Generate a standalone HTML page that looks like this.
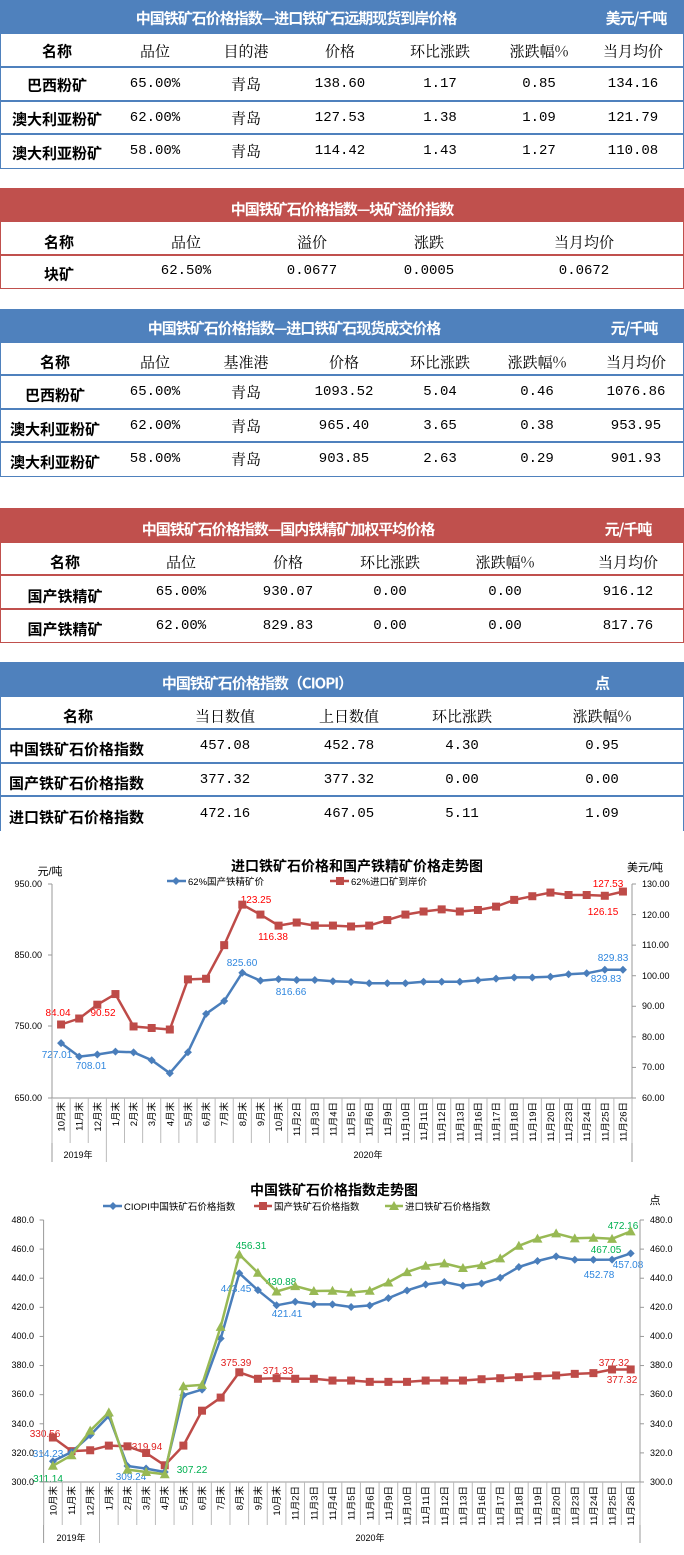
<!DOCTYPE html>
<html><head><meta charset="utf-8">
<style>
*{margin:0;padding:0;box-sizing:border-box}
body{width:684px;height:1555px;background:#fff;position:relative;overflow:hidden;font-family:"Liberation Sans","Noto Sans CJK SC",sans-serif}
.bar{position:absolute;left:0;width:684px}
.blue{background:#4f81bd}.red{background:#c0504d}
.body{position:absolute;left:0;width:684px;border:1.5px solid}
.bb{border-color:#4f81bd}.rb{border-color:#c0504d}
.hl{position:absolute;left:0;width:684px;height:2px}
.c{position:absolute;transform:translate(-50%,-50%);white-space:nowrap}
.t{color:#fff;font-weight:bold;font-size:15px;font-family:"Noto Sans CJK SC",sans-serif;letter-spacing:-1px}
.h{font-size:15px;font-family:"Noto Serif CJK SC",serif;color:#000}
.n{font-size:15px;font-weight:bold;font-family:"Noto Sans CJK SC",sans-serif;color:#000}
.d{font-size:14px;font-family:"Liberation Mono",monospace;letter-spacing:0px;color:#000}
.l{position:absolute;transform:translate(0,-50%);white-space:nowrap}
svg text{font-family:"Liberation Sans","Noto Sans CJK SC",sans-serif}
</style></head><body>

<!-- Table 1 -->
<div class="bar blue" style="top:0;height:34px"></div>
<div class="body bb" style="top:33px;height:136px"></div>
<div class="hl blue" style="top:66px"></div><div class="hl blue" style="top:100px"></div><div class="hl blue" style="top:133px"></div>
<span class="c t" style="left:296px;top:18px">中国铁矿石价格指数—进口铁矿石远期现货到岸价格</span>
<span class="c t" style="left:636px;top:18px">美元/千吨</span>
<span class="c n" style="left:57px;top:51px">名称</span><span class="c h" style="left:155px;top:51px">品位</span><span class="c h" style="left:246px;top:51px">目的港</span><span class="c h" style="left:340px;top:51px">价格</span><span class="c h" style="left:440px;top:51px">环比涨跌</span><span class="c h" style="left:539px;top:51px">涨跌幅%</span><span class="c h" style="left:633px;top:51px">当月均价</span>
<span class="c n" style="left:57px;top:85px">巴西粉矿</span><span class="c d" style="left:155px;top:84px">65.00%</span><span class="c h" style="left:246px;top:84px">青岛</span><span class="c d" style="left:340px;top:84px">138.60</span><span class="c d" style="left:440px;top:84px">1.17</span><span class="c d" style="left:539px;top:84px">0.85</span><span class="c d" style="left:633px;top:84px">134.16</span>
<span class="c n" style="left:57px;top:119px">澳大利亚粉矿</span><span class="c d" style="left:155px;top:118px">62.00%</span><span class="c h" style="left:246px;top:118px">青岛</span><span class="c d" style="left:340px;top:118px">127.53</span><span class="c d" style="left:440px;top:118px">1.38</span><span class="c d" style="left:539px;top:118px">1.09</span><span class="c d" style="left:633px;top:118px">121.79</span>
<span class="c n" style="left:57px;top:153px">澳大利亚粉矿</span><span class="c d" style="left:155px;top:151px">58.00%</span><span class="c h" style="left:246px;top:151px">青岛</span><span class="c d" style="left:340px;top:151px">114.42</span><span class="c d" style="left:440px;top:151px">1.43</span><span class="c d" style="left:539px;top:151px">1.27</span><span class="c d" style="left:633px;top:151px">110.08</span>

<!-- Table 2 -->
<div class="bar red" style="top:188px;height:34px"></div>
<div class="body rb" style="top:221px;height:68px"></div>
<div class="hl red" style="top:254px"></div>
<span class="c t" style="left:342px;top:209px">中国铁矿石价格指数—块矿溢价指数</span>
<span class="c n" style="left:59px;top:242px">名称</span><span class="c h" style="left:186px;top:242px">品位</span><span class="c h" style="left:312px;top:242px">溢价</span><span class="c h" style="left:429px;top:242px">涨跌</span><span class="c h" style="left:584px;top:242px">当月均价</span>
<span class="c n" style="left:59px;top:274px">块矿</span><span class="c d" style="left:186px;top:271px">62.50%</span><span class="c d" style="left:312px;top:271px">0.0677</span><span class="c d" style="left:429px;top:271px">0.0005</span><span class="c d" style="left:584px;top:271px">0.0672</span>

<!-- Table 3 -->
<div class="bar blue" style="top:309px;height:34px"></div>
<div class="body bb" style="top:342px;height:135px"></div>
<div class="hl blue" style="top:374px"></div><div class="hl blue" style="top:408px"></div><div class="hl blue" style="top:441px"></div>
<span class="c t" style="left:294px;top:328px">中国铁矿石价格指数—进口铁矿石现货成交价格</span>
<span class="c t" style="left:634px;top:328px">元/千吨</span>
<span class="c n" style="left:55px;top:362px">名称</span><span class="c h" style="left:155px;top:362px">品位</span><span class="c h" style="left:246px;top:362px">基准港</span><span class="c h" style="left:344px;top:362px">价格</span><span class="c h" style="left:440px;top:362px">环比涨跌</span><span class="c h" style="left:537px;top:362px">涨跌幅%</span><span class="c h" style="left:636px;top:362px">当月均价</span>
<span class="c n" style="left:55px;top:395px">巴西粉矿</span><span class="c d" style="left:155px;top:392px">65.00%</span><span class="c h" style="left:246px;top:392px">青岛</span><span class="c d" style="left:344px;top:392px">1093.52</span><span class="c d" style="left:440px;top:392px">5.04</span><span class="c d" style="left:537px;top:392px">0.46</span><span class="c d" style="left:636px;top:392px">1076.86</span>
<span class="c n" style="left:55px;top:429px">澳大利亚粉矿</span><span class="c d" style="left:155px;top:426px">62.00%</span><span class="c h" style="left:246px;top:426px">青岛</span><span class="c d" style="left:344px;top:426px">965.40</span><span class="c d" style="left:440px;top:426px">3.65</span><span class="c d" style="left:537px;top:426px">0.38</span><span class="c d" style="left:636px;top:426px">953.95</span>
<span class="c n" style="left:55px;top:462px">澳大利亚粉矿</span><span class="c d" style="left:155px;top:459px">58.00%</span><span class="c h" style="left:246px;top:459px">青岛</span><span class="c d" style="left:344px;top:459px">903.85</span><span class="c d" style="left:440px;top:459px">2.63</span><span class="c d" style="left:537px;top:459px">0.29</span><span class="c d" style="left:636px;top:459px">901.93</span>

<!-- Table 4 -->
<div class="bar red" style="top:508px;height:35px"></div>
<div class="body rb" style="top:542px;height:101px"></div>
<div class="hl red" style="top:574px"></div><div class="hl red" style="top:608px"></div>
<span class="c t" style="left:288px;top:529px">中国铁矿石价格指数—国内铁精矿加权平均价格</span>
<span class="c t" style="left:628px;top:529px">元/千吨</span>
<span class="c n" style="left:65px;top:562px">名称</span><span class="c h" style="left:181px;top:562px">品位</span><span class="c h" style="left:288px;top:562px">价格</span><span class="c h" style="left:390px;top:562px">环比涨跌</span><span class="c h" style="left:505px;top:562px">涨跌幅%</span><span class="c h" style="left:628px;top:562px">当月均价</span>
<span class="c n" style="left:65px;top:596px">国产铁精矿</span><span class="c d" style="left:181px;top:592px">65.00%</span><span class="c d" style="left:288px;top:592px">930.07</span><span class="c d" style="left:390px;top:592px">0.00</span><span class="c d" style="left:505px;top:592px">0.00</span><span class="c d" style="left:628px;top:592px">916.12</span>
<span class="c n" style="left:65px;top:629px">国产铁精矿</span><span class="c d" style="left:181px;top:626px">62.00%</span><span class="c d" style="left:288px;top:626px">829.83</span><span class="c d" style="left:390px;top:626px">0.00</span><span class="c d" style="left:505px;top:626px">0.00</span><span class="c d" style="left:628px;top:626px">817.76</span>

<!-- Table 5 -->
<div class="bar blue" style="top:662px;height:35px"></div>
<div style="position:absolute;left:0;top:696px;width:684px;height:135px;border-left:1.5px solid #4f81bd;border-right:1.5px solid #4f81bd"></div>
<div class="hl blue" style="top:728px"></div><div class="hl blue" style="top:762px"></div><div class="hl blue" style="top:795px"></div>
<span class="c t" style="left:257px;top:683px">中国铁矿石价格指数（CIOPI）</span>
<span class="c t" style="left:602px;top:683px">点</span>
<span class="c n" style="left:78px;top:716px">名称</span><span class="c h" style="left:225px;top:716px">当日数值</span><span class="c h" style="left:349px;top:716px">上日数值</span><span class="c h" style="left:462px;top:716px">环比涨跌</span><span class="c h" style="left:602px;top:716px">涨跌幅%</span>
<span class="l n" style="left:9px;top:749px">中国铁矿石价格指数</span><span class="c d" style="left:225px;top:746px">457.08</span><span class="c d" style="left:349px;top:746px">452.78</span><span class="c d" style="left:462px;top:746px">4.30</span><span class="c d" style="left:602px;top:746px">0.95</span>
<span class="l n" style="left:9px;top:783px">国产铁矿石价格指数</span><span class="c d" style="left:225px;top:780px">377.32</span><span class="c d" style="left:349px;top:780px">377.32</span><span class="c d" style="left:462px;top:780px">0.00</span><span class="c d" style="left:602px;top:780px">0.00</span>
<span class="l n" style="left:9px;top:817px">进口铁矿石价格指数</span><span class="c d" style="left:225px;top:814px">472.16</span><span class="c d" style="left:349px;top:814px">467.05</span><span class="c d" style="left:462px;top:814px">5.11</span><span class="c d" style="left:602px;top:814px">1.09</span>

<svg id="sv" width="684" height="1555" style="position:absolute;left:0;top:0">
<g id="g1" font-size="9">
<text x="357" y="871" text-anchor="middle" font-size="14" font-weight="bold">进口铁矿石价格和国产铁精矿价格走势图</text>
<text x="50" y="875" text-anchor="middle" font-size="11">元/吨</text>
<text x="645" y="871" text-anchor="middle" font-size="11">美元/吨</text>
<text x="188" y="885" font-size="9.5">62%国产铁精矿价</text>
<text x="351" y="885" font-size="9.5">62%进口矿到岸价</text>
<g text-anchor="end"><text x="42" y="887">950.00</text><text x="42" y="958">850.00</text><text x="42" y="1029">750.00</text><text x="42" y="1101">650.00</text></g>
<g><text x="642" y="887">130.00</text><text x="642" y="918">120.00</text><text x="642" y="948">110.00</text><text x="642" y="979">100.00</text><text x="642" y="1009">90.00</text><text x="642" y="1040">80.00</text><text x="642" y="1070">70.00</text><text x="642" y="1101">60.00</text></g>
<text x="78" y="1158" text-anchor="middle">2019年</text><text x="368" y="1158" text-anchor="middle">2020年</text>
<g fill="#ff0000" font-size="10"><text x="58" y="1016" text-anchor="middle">84.04</text><text x="103" y="1016" text-anchor="middle">90.52</text><text x="256" y="903" text-anchor="middle">123.25</text><text x="273" y="940" text-anchor="middle">116.38</text><text x="608" y="887" text-anchor="middle">127.53</text><text x="603" y="915" text-anchor="middle">126.15</text></g>
<g fill="#2e86de" font-size="10"><text x="57" y="1058" text-anchor="middle">727.01</text><text x="91" y="1069" text-anchor="middle">708.01</text><text x="242" y="966" text-anchor="middle">825.60</text><text x="291" y="995" text-anchor="middle">816.66</text><text x="613" y="961" text-anchor="middle">829.83</text><text x="606" y="982" text-anchor="middle">829.83</text></g>
<g id="cat1" font-size="9.5"><text>10月末</text><text>11月末</text><text>12月末</text><text>1月末</text><text>2月末</text><text>3月末</text><text>4月末</text><text>5月末</text><text>6月末</text><text>7月末</text><text>8月末</text><text>9月末</text><text>10月末</text><text>11月2日</text><text>11月3日</text><text>11月4日</text><text>11月5日</text><text>11月6日</text><text>11月9日</text><text>11月10日</text><text>11月11日</text><text>11月12日</text><text>11月13日</text><text>11月16日</text><text>11月17日</text><text>11月18日</text><text>11月19日</text><text>11月20日</text><text>11月23日</text><text>11月24日</text><text>11月25日</text><text>11月26日</text></g>
</g>
<g id="g2" font-size="9">
<text x="334" y="1195" text-anchor="middle" font-size="14" font-weight="bold">中国铁矿石价格指数走势图</text>
<text x="655" y="1204" text-anchor="middle" font-size="11">点</text>
<text x="124" y="1210" font-size="9.5">CIOPI中国铁矿石价格指数</text>
<text x="274" y="1210" font-size="9.5">国产铁矿石价格指数</text>
<text x="405" y="1210" font-size="9.5">进口铁矿石价格指数</text>
<text x="71" y="1541" text-anchor="middle">2019年</text><text x="370" y="1541" text-anchor="middle">2020年</text>
<g fill="#2e86de" font-size="10" text-anchor="middle"><text x="48" y="1457">314.23</text><text x="131" y="1480">309.24</text><text x="236" y="1292">443.45</text><text x="287" y="1317">421.41</text><text x="599" y="1278">452.78</text><text x="628" y="1268">457.08</text></g>
<g fill="#e02020" font-size="10" text-anchor="middle"><text x="45" y="1437">330.56</text><text x="147" y="1450">319.94</text><text x="236" y="1366">375.39</text><text x="278" y="1374">371.33</text><text x="614" y="1366">377.32</text><text x="622" y="1383">377.32</text></g>
<g fill="#00b050" font-size="10" text-anchor="middle"><text x="48" y="1482">311.14</text><text x="192" y="1473">307.22</text><text x="251" y="1249">456.31</text><text x="281" y="1285">430.88</text><text x="623" y="1229">472.16</text><text x="606" y="1253">467.05</text></g>
<g text-anchor="end"><text x="34" y="1223">480.0</text><text x="34" y="1252">460.0</text><text x="34" y="1281">440.0</text><text x="34" y="1310">420.0</text><text x="34" y="1339">400.0</text><text x="34" y="1368">380.0</text><text x="34" y="1397">360.0</text><text x="34" y="1427">340.0</text><text x="34" y="1456">320.0</text><text x="34" y="1485">300.0</text></g>
<g><text x="650" y="1223">480.0</text><text x="650" y="1252">460.0</text><text x="650" y="1281">440.0</text><text x="650" y="1310">420.0</text><text x="650" y="1339">400.0</text><text x="650" y="1368">380.0</text><text x="650" y="1397">360.0</text><text x="650" y="1427">340.0</text><text x="650" y="1456">320.0</text><text x="650" y="1485">300.0</text></g>
<g id="cat2" font-size="9.5"><text>10月末</text><text>11月末</text><text>12月末</text><text>1月末</text><text>2月末</text><text>3月末</text><text>4月末</text><text>5月末</text><text>6月末</text><text>7月末</text><text>8月末</text><text>9月末</text><text>10月末</text><text>11月2日</text><text>11月3日</text><text>11月4日</text><text>11月5日</text><text>11月6日</text><text>11月9日</text><text>11月10日</text><text>11月11日</text><text>11月12日</text><text>11月13日</text><text>11月16日</text><text>11月17日</text><text>11月18日</text><text>11月19日</text><text>11月20日</text><text>11月23日</text><text>11月24日</text><text>11月25日</text><text>11月26日</text></g>
</g>
<g id="gfx"></g>
</svg>
<script>
(function(){
var NS="http://www.w3.org/2000/svg",gfx=document.getElementById('gfx');
function el(t,a){var e=document.createElementNS(NS,t);for(var k in a)e.setAttribute(k,a[k]);gfx.appendChild(e);return e;}
function line(x1,y1,x2,y2,c,w){el('line',{x1:x1,y1:y1,x2:x2,y2:y2,stroke:c||'#999','stroke-width':w||1});}
function mark(type,x,y,c){
 if(type=='d')el('polygon',{points:(x)+','+(y-4)+' '+(x+4)+','+y+' '+x+','+(y+4)+' '+(x-4)+','+y,fill:c});
 else if(type=='s')el('rect',{x:x-4,y:y-4,width:8,height:8,fill:c});
 else el('polygon',{points:x+','+(y-5)+' '+(x+5)+','+(y+4)+' '+(x-5)+','+(y+4),fill:c});
}
function series(xs,ys,c,type){
 var p=xs.map(function(x,i){return x.toFixed(1)+','+ys[i].toFixed(1)}).join(' ');
 el('polyline',{points:p,fill:'none',stroke:c,'stroke-width':2.5,'stroke-linejoin':'round'});
 xs.forEach(function(x,i){mark(type,x,ys[i],c)});
}
var B='#4a7ebb',R='#be4b48',G='#98b954';
var L1=52,R1=632,T1=884,Bo1=1098,st1=(R1-L1)/32;
line(L1,T1,L1,1162,'#999');line(R1,T1,R1,1162,'#999');line(L1,Bo1,R1,Bo1,'#999');
for(var i=0;i<=32;i++){var x=L1+st1*i;line(x,Bo1,x,1143,'#bbb');}
line(L1+st1*3,1143,L1+st1*3,1162,'#bbb');
[884,955,1026,1098].forEach(function(y){line(L1-4,y,L1,y)});
for(var k=0;k<8;k++){var y=T1+k*(Bo1-T1)/7;line(R1,y,R1+4,y);}
var cx1=[];for(i=0;i<32;i++)cx1.push(L1+st1*(i+.5));
var blue1=[727.01,708.01,711,715,714,703,684.7,714.2,768,786,825.6,814.5,816.66,815.5,815.5,813.6,812.7,810.8,810.8,810.8,813,813,813,815,817.3,819,819,820,823.4,824.8,829.83,829.83];
var red1=[84.04,86,90.52,94,83.4,82.9,82.4,98.8,99,110,123.25,120,116.38,117.4,116.4,116.4,116.1,116.4,118.2,120,121,121.7,121,121.5,122.6,124.8,126,127.2,126.4,126.4,126.15,127.53];
series(cx1,blue1.map(function(v){return Bo1-(v-650)/300*(Bo1-T1)}),B,'d');
series(cx1,red1.map(function(v){return Bo1-(v-60)/70*(Bo1-T1)}),R,'s');
line(167,881,186,881,B,2.5);mark('d',176,881,B);
line(330,881,349,881,R,2.5);mark('s',340,881,R);
var c1=document.getElementById('cat1').children;
for(i=0;i<c1.length;i++){c1[i].setAttribute('text-anchor','end');c1[i].setAttribute('transform','translate('+(cx1[i]+3.5)+',1102) rotate(-90)');}
var L2=43.6,R2=640,T2=1220,Bo2=1482,st2=(R2-L2)/32;
line(L2,T2,L2,1543,'#999');line(R2,T2,R2,1543,'#999');line(L2,Bo2,R2,Bo2,'#999');
for(i=0;i<=32;i++){var x=L2+st2*i;line(x,Bo2,x,1525,'#bbb');}
line(L2+st2*3,1525,L2+st2*3,1543,'#bbb');
for(k=0;k<10;k++){var y=T2+k*(Bo2-T2)/9;line(L2-4,y,L2,y);line(R2,y,R2+4,y);}
var cx2=[];for(i=0;i<32;i++)cx2.push(L2+st2*(i+.5));
var y2=function(v){return Bo2-(v-300)/180*(Bo2-T2)};
var bl=[314.23,320.6,332.1,345.4,311,309.24,306.9,359.6,363.5,398.6,443.45,431.8,421.41,423.8,422,422,420.2,421.3,426.3,431.6,435.7,437.4,434.8,436.4,440.3,447.7,451.8,455,452.7,452.7,452.78,457.08];
var rd=[330.56,321.2,321.8,325,324.5,319.94,311.5,325,349,358,375.39,370.9,371.33,370.9,370.9,369.7,369.7,368.8,368.8,368.8,369.7,369.7,369.7,370.6,371.3,372,372.7,373.2,374.3,374.8,377.32,377.32];
var gr=[311.14,318.4,335.3,347.8,308.5,306.9,305.3,365.8,366.7,406.6,456.31,443.8,430.88,434.6,431.2,431.4,430.2,431.4,437.1,444.2,448.6,450.2,447,449,453.6,462.3,467.2,470.8,467.4,467.8,467.05,472.16];
series(cx2,rd.map(y2),R,'s');
series(cx2,bl.map(y2),B,'d');
series(cx2,gr.map(y2),G,'t');
line(103,1206,122,1206,B,2.5);mark('d',113,1206,B);
line(254,1206,272,1206,R,2.5);mark('s',263,1206,R);
line(385,1206,403,1206,G,2.5);mark('t',394,1206,G);
var c2=document.getElementById('cat2').children;
for(i=0;i<c2.length;i++){c2[i].setAttribute('text-anchor','end');c2[i].setAttribute('transform','translate('+(cx2[i]+3.5)+',1486) rotate(-90)');}
})();
</script>
</body></html>
